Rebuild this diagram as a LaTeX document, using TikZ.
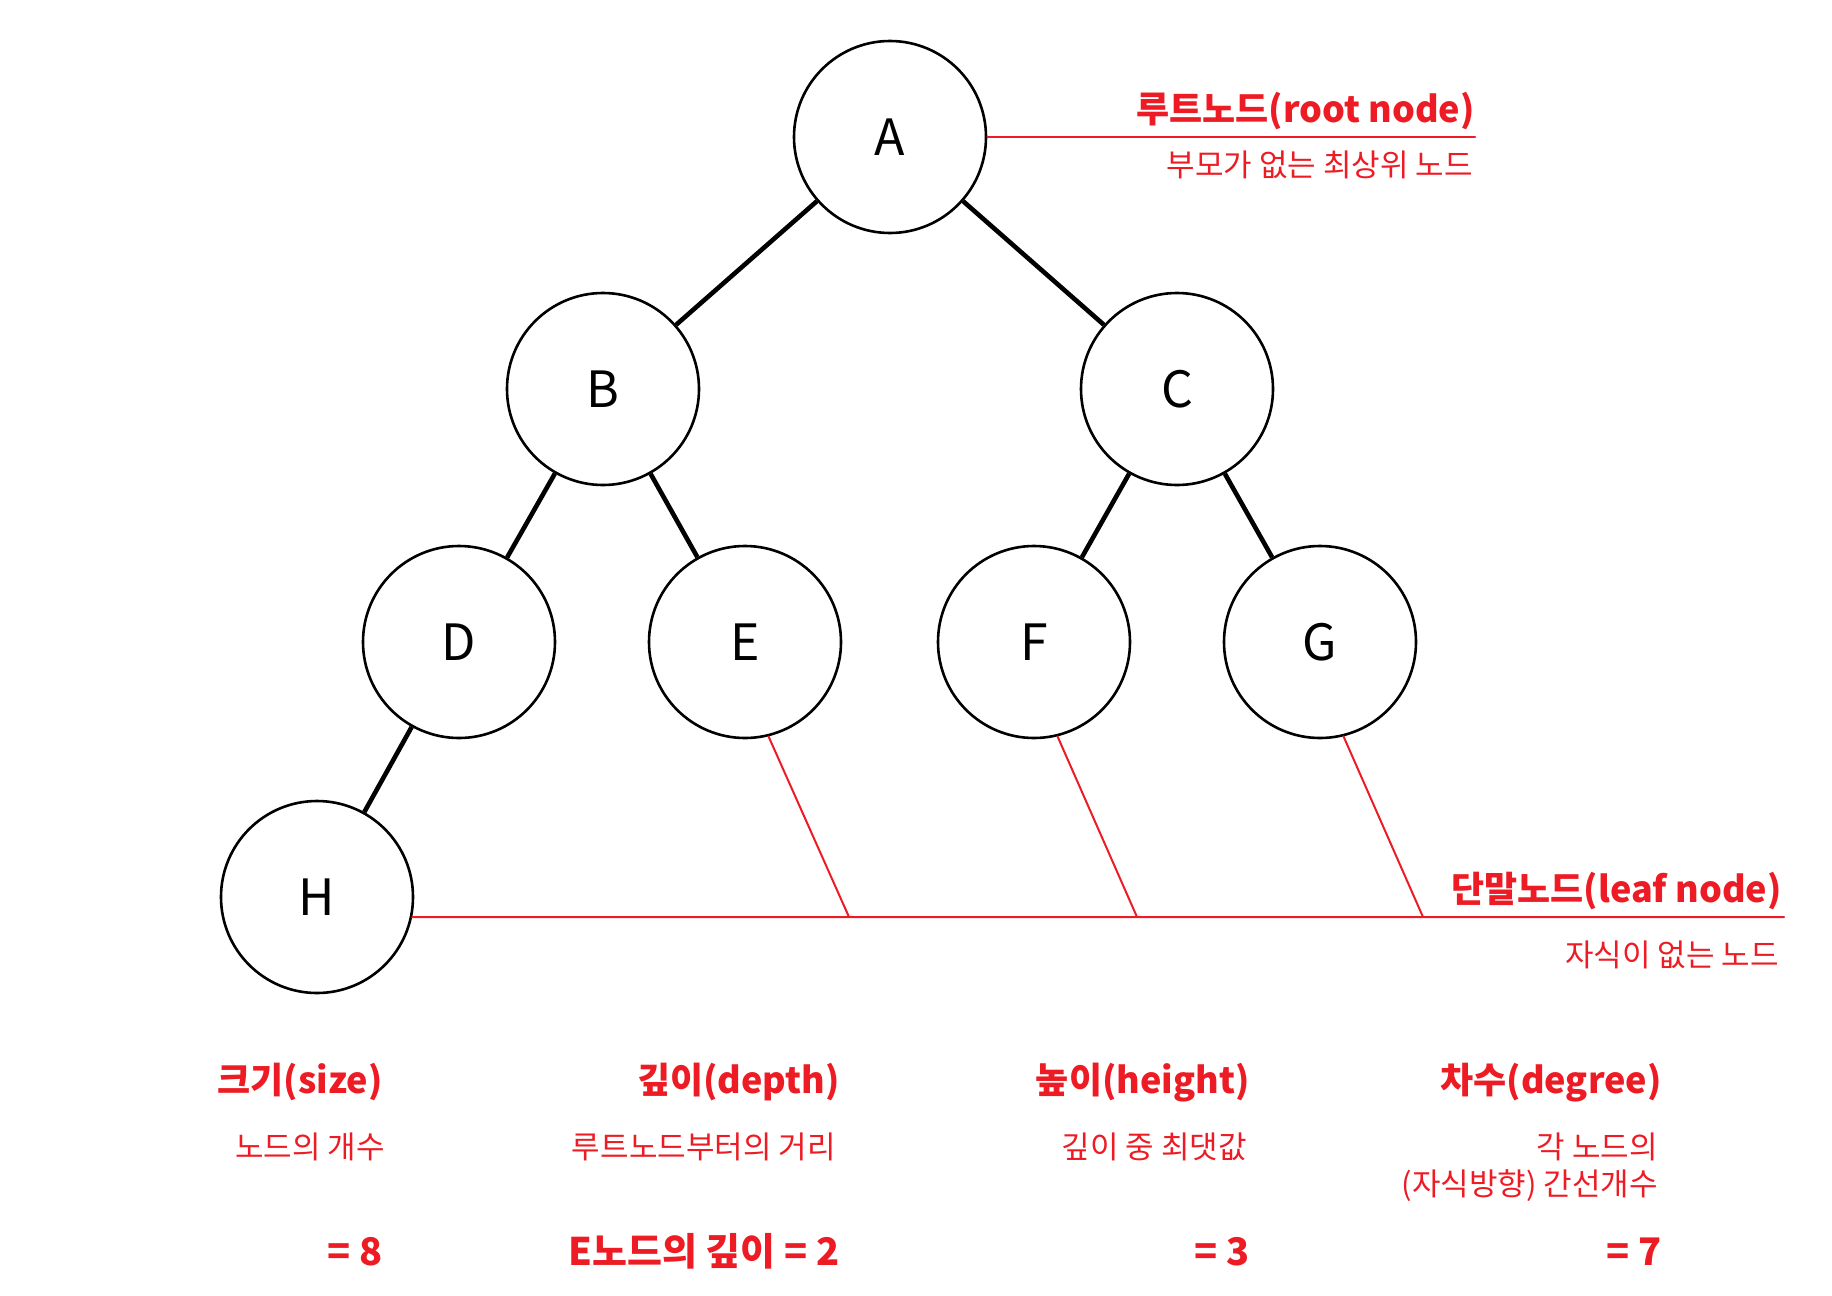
\documentclass[tikz,border=0pt]{standalone}
\usepackage{fontspec}
\setmainfont{Noto Sans CJK KR}
\usepackage{xcolor}
\usepackage{tikz}
\usetikzlibrary{positioning}
\definecolor{trRed}{HTML}{ED1C24}
\definecolor{trInk}{HTML}{000000}
\tikzset{
  tr diagram/.style={x=0.5pt, y=-0.5pt, line cap=round, line join=round},
  tr node/.style={circle, draw=trInk, fill=white, line width=1.3pt,
    minimum size=96pt, inner sep=0pt, font=\fontsize{25}{28}\selectfont},
  tr edge/.style={draw=trInk, line width=2.3pt, line cap=butt},
  tr mark/.style={draw=trRed, line width=1pt},
  tr title/.style={anchor=base east, inner sep=0pt, text=trRed,
    font=\fontsize{18}{21}\selectfont\bfseries},
  tr note/.style={anchor=base east, inner sep=0pt, text=trRed,
    font=\fontsize{15.5}{18.5}\selectfont, align=right},
  tr value/.style={tr title, font=\fontsize{19}{22}\selectfont\bfseries}
}
\begin{document}
\begin{tikzpicture}[tr diagram]
\useasboundingbox (0,0) rectangle (1832,1296);
% tree
\node[tr node] (A) at (890,137) {A};
\node[tr node] (B) at (603,389) {B};
\node[tr node] (C) at (1177,389) {C};
\node[tr node] (D) at (459,642) {D};
\node[tr node] (E) at (745,642) {E};
\node[tr node] (F) at (1034,642) {F};
\node[tr node] (G) at (1320,642) {G};
\node[tr node] (H) at (317,897) {H};
\draw[tr edge] (A) -- (B);
\draw[tr edge] (A) -- (C);
\draw[tr edge] (B) -- (D);
\draw[tr edge] (B) -- (E);
\draw[tr edge] (C) -- (F);
\draw[tr edge] (C) -- (G);
\draw[tr edge] (D) -- (H);
% root node
\coordinate (rootend) at (1475,137);
\draw[tr mark] (A.east) -- (rootend);
\node[tr title] (roottitle) at (1475,122) {루트노드(root node)};
\node[tr note] (rootnote) at (1473,176) {부모가 없는 최상위 노드};
% leaf nodes
\coordinate (leafend) at (1784,917);
\coordinate (eend) at (849,917);
\coordinate (fend) at (1137,917);
\coordinate (gend) at (1423,917);
\draw[tr mark] (H.-12.6) -- (leafend);
\draw[tr mark] (E.-76) -- (eend);
\draw[tr mark] (F.-76) -- (fend);
\draw[tr mark] (G.-76) -- (gend);
\node[tr title] (leaftitle) at (1782,902) {단말노드(leaf node)};
\node[tr note] (leafnote) at (1779,966) {자식이 없는 노드};
% terms
\node[tr title] (size) at (383,1093) {크기(size)};
\node[tr note] (sizenote) at (385,1158) {노드의 개수};
\node[tr value] (sizeval) at (383,1265) {= 8};
\node[tr title] (depth) at (840,1093) {깊이(depth)};
\node[tr note] (depthnote) at (836,1158) {루트노드부터의 거리};
\node[tr value] (depthval) at (840,1265) {E노드의 깊이 = 2};
\node[tr title] (height) at (1250,1093) {높이(height)};
\node[tr note] (heightnote) at (1247,1158) {깊이 중 최댓값};
\node[tr value] (heightval) at (1250,1265) {= 3};
\node[tr title] (degree) at (1662,1093) {차수(degree)};
\node[tr note] (degreenote) at (1658,1195) {각 노드의\\(자식방향) 간선개수};
\node[tr value] (degreeval) at (1662,1265) {= 7};
\end{tikzpicture}
\end{document}
